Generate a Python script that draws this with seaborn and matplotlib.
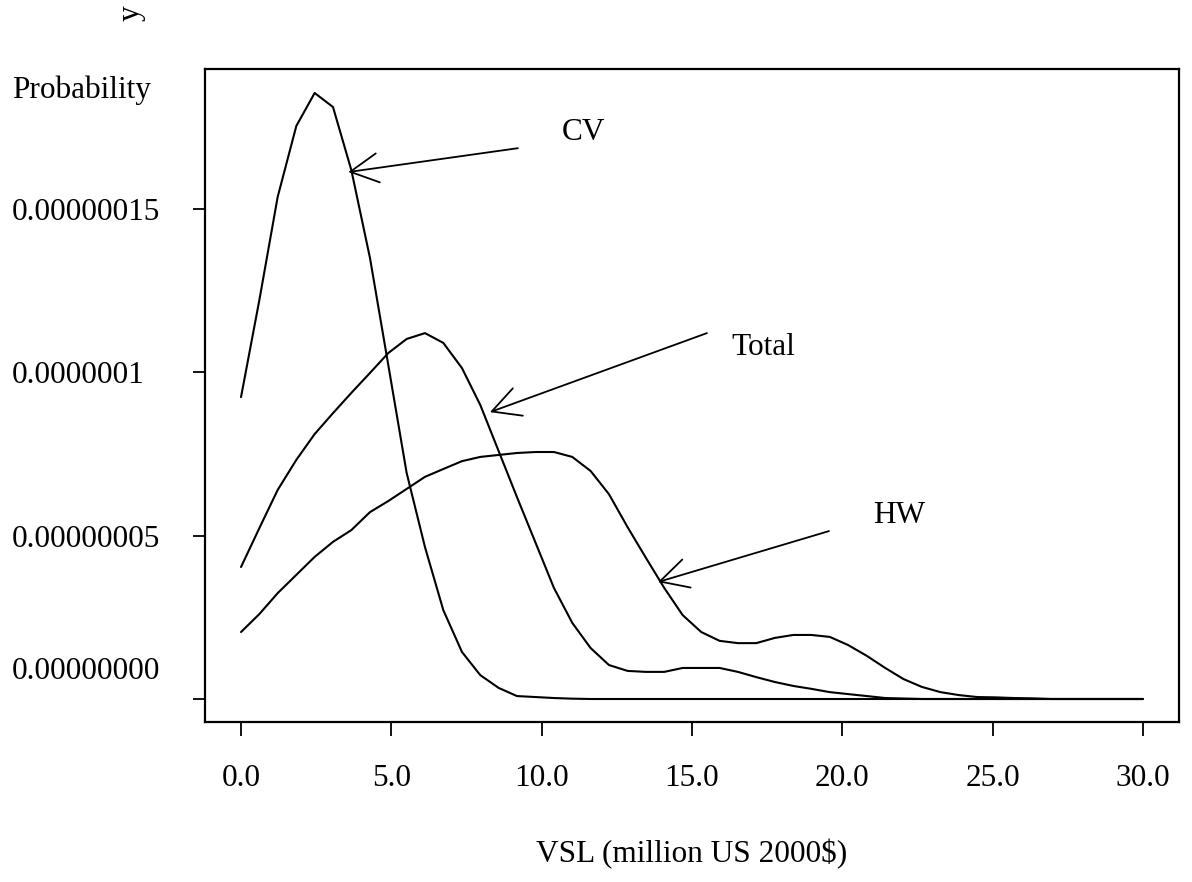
import numpy as np
import pandas as pd
import matplotlib
matplotlib.use("Agg")
import matplotlib.pyplot as plt
from matplotlib.transforms import ScaledTranslation
import seaborn as sns

# ---------------- data ----------------
vsl = [0.00, 0.61, 1.22, 1.84, 2.45, 3.06, 3.67, 4.29, 4.90, 5.51,
       6.12, 6.73, 7.35, 7.96, 8.57, 9.18, 9.80, 10.41, 11.02, 11.63,
       12.24, 12.86, 13.47, 14.08, 14.69, 15.31, 15.92, 16.53, 17.14, 17.76,
       18.37, 18.98, 19.59, 20.20, 20.82, 21.43, 22.04, 22.65, 23.27, 23.88,
       24.49, 25.10, 25.71, 26.33, 26.94, 27.55, 28.16, 28.78, 29.39, 30.00]

# probabilities in units of 1e-7
cv = [0.924, 1.221, 1.537, 1.754, 1.855, 1.812, 1.619, 1.350, 1.022, 0.692,
      0.465, 0.272, 0.144, 0.073, 0.034, 0.009, 0.006, 0.003, 0.001, 0.0,
      0.0, 0.0, 0.0, 0.0, 0.0, 0.0, 0.0, 0.0, 0.0, 0.0,
      0.0, 0.0, 0.0, 0.0, 0.0, 0.0, 0.0, 0.0, 0.0, 0.0,
      0.0, 0.0, 0.0, 0.0, 0.0, 0.0, 0.0, 0.0, 0.0, 0.0]

total = [0.404, 0.523, 0.640, 0.732, 0.811, 0.875, 0.937, 0.998, 1.059, 1.102,
         1.120, 1.090, 1.013, 0.900, 0.759, 0.618, 0.478, 0.340, 0.233, 0.156,
         0.104, 0.086, 0.083, 0.083, 0.095, 0.095, 0.095, 0.083, 0.067, 0.052,
         0.040, 0.031, 0.021, 0.015, 0.009, 0.003, 0.0015, 0.0, 0.0, 0.0,
         0.0, 0.0, 0.0, 0.0, 0.0, 0.0, 0.0, 0.0, 0.0, 0.0]

hw = [0.205, 0.260, 0.324, 0.380, 0.435, 0.481, 0.517, 0.572, 0.606, 0.643,
      0.680, 0.704, 0.728, 0.741, 0.747, 0.753, 0.756, 0.756, 0.741, 0.698,
      0.627, 0.526, 0.432, 0.340, 0.257, 0.205, 0.178, 0.171, 0.171, 0.187,
      0.196, 0.196, 0.190, 0.165, 0.132, 0.095, 0.061, 0.037, 0.021, 0.012,
      0.006, 0.005, 0.003, 0.002, 0.0, 0.0, 0.0, 0.0, 0.0, 0.0]

series_names = ["CV", "Total", "HW"]
x_ticks = [0, 5, 10, 15, 20, 25, 30]
x_tick_labels = ["0.0", "5.0", "10.0", "15.0", "20.0", "25.0", "30.0"]
y_ticks = [0.0, 0.5e-7, 1.0e-7, 1.5e-7]
y_tick_labels = ["0.00000000", "0.00000005", "0.0000001", "0.00000015"]

# annotation anchors (data coords): label position, arrow tail, arrow head
label_pos = {"CV": (11.38, 1.735e-7), "Total": (17.37, 1.077e-7), "HW": (21.89, 0.563e-7)}
arrow_tail = {"CV": (9.21, 1.686e-7), "Total": (15.50, 1.120e-7), "HW": (19.56, 0.514e-7)}
arrow_head = {"CV": (3.57, 1.613e-7), "Total": (8.28, 0.878e-7), "HW": (13.87, 0.358e-7)}

df = pd.DataFrame({
    "VSL": vsl * 3,
    "prob": [v * 1e-7 for v in cv + total + hw],
    "series": ["CV"] * len(vsl) + ["Total"] * len(vsl) + ["HW"] * len(vsl),
})

# ---------------- style ----------------
sns.set_style("ticks")
plt.rcParams["font.family"] = ["Liberation Serif", "DejaVu Serif"]
plt.rcParams["text.color"] = "black"
plt.rcParams["axes.labelcolor"] = "black"
plt.rcParams["xtick.color"] = "black"
plt.rcParams["ytick.color"] = "black"
FS = 22.5

fig = plt.figure(figsize=(11.92, 8.82), dpi=100)
ax = fig.add_axes([205 / 1192, 1 - 722 / 882, (1179 - 205) / 1192, (722 - 69) / 882])

sns.lineplot(data=df, x="VSL", y="prob", hue="series", units="series",
             estimator=None, sort=False, legend=False,
             palette={"CV": "black", "Total": "black", "HW": "black"},
             linewidth=1.5, ax=ax)

ax.set_xlim(-1.198, 31.204)
ax.set_ylim(-0.0704e-7, 1.9284e-7)

for sp in ax.spines.values():
    sp.set_visible(True)
    sp.set_linewidth(1.6)
    sp.set_color("black")

ax.set_xticks(x_ticks, labels=x_tick_labels)
ax.set_yticks(y_ticks, labels=y_tick_labels)
ax.tick_params(axis="x", direction="out", length=10, width=1.3, pad=20.5,
               labelsize=FS, colors="black")
ax.tick_params(axis="y", direction="out", length=8.6, width=1.3, pad=130.3,
               labelsize=FS, colors="black")
for lab in ax.get_yticklabels():
    lab.set_horizontalalignment("left")

# the zero label sits higher than its tick in the original
zero_tick = ax.yaxis.get_major_ticks()[0]
zero_tick.label1.set_transform(zero_tick.label1.get_transform()
                               + ScaledTranslation(0, 31 / 100, fig.dpi_scale_trans))

ax.set_xlabel("VSL (million US 2000$)", fontsize=FS, labelpad=33, color="black")
ax.set_ylabel("")

fig.text(12 / 1192, 1 - 90 / 882, "Probability", fontsize=FS,
         ha="left", va="center", color="black")
fig.text(131 / 1192, 1 - 13 / 882, "y", fontsize=FS, rotation=90,
         ha="center", va="center", color="black")

for name in series_names:
    ax.annotate("", xy=arrow_head[name], xytext=arrow_tail[name],
                arrowprops=dict(arrowstyle="->,head_length=0.8,head_width=0.42",
                                lw=1.3, color="black", shrinkA=0, shrinkB=0,
                                mutation_scale=25))
    ax.text(label_pos[name][0], label_pos[name][1], name, fontsize=FS,
            ha="center", va="center", color="black")

fig.savefig("out.png", dpi=100, facecolor="white")
